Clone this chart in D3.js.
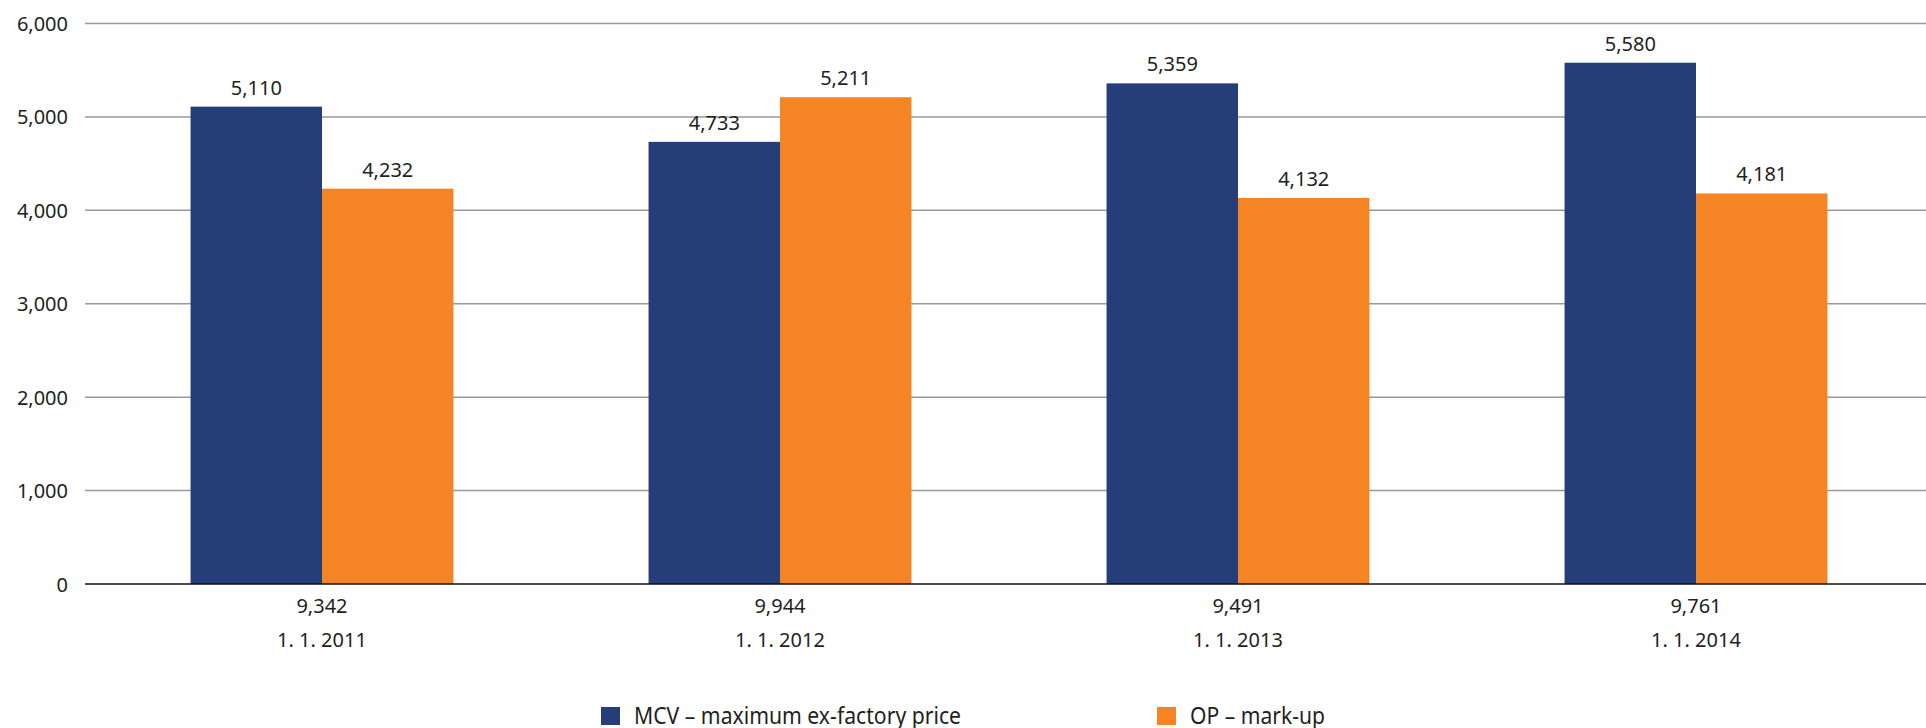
<!DOCTYPE html>
<html>
<head>
<meta charset="utf-8">
<script src="https://cdn.jsdelivr.net/npm/d3@7"></script>
<style>
  body { margin: 0; background: #fff; }
  text { font-family: "Noto Sans", sans-serif; fill: #231f20; }
</style>
</head>
<body>
<script>
const w = 1926;
const h = 728;

// data
const dates = ["1. 1. 2011", "1. 1. 2012", "1. 1. 2013", "1. 1. 2014"];
const totals = ["9,342", "9,944", "9,491", "9,761"];
const mcv = [5110, 4733, 5359, 5580];
const op = [4232, 5211, 4132, 4181];
const seriesNames = ["MCV \u2013 maximum ex-factory price", "OP \u2013 mark-up"];
const yTicks = [0, 1000, 2000, 3000, 4000, 5000, 6000];

const colors = ["#253d78", "#f58524"];

const rows = dates.map(function(d, i) {
  return {date: d, total: totals[i], vals: [mcv[i], op[i]]};
});

const svg = d3.select("body")
  .append("svg")
  .attr("width", w)
  .attr("height", h);

const y = d3.scaleLinear().domain([0, 6000]).range([584, 23.5]);

const x = d3.scaleBand()
  .domain(dates)
  .range([93, 1925])
  .paddingInner(0.426)
  .paddingOuter(0.213);

const x1 = d3.scaleBand()
  .domain([0, 1])
  .range([0, x.bandwidth()]);

// gridlines
svg.append("g")
  .selectAll("line")
  .data(yTicks.filter(function(t) { return t > 0; }))
  .enter()
  .append("line")
  .attr("x1", 85)
  .attr("x2", w)
  .attr("y1", function(d) { return y(d); })
  .attr("y2", function(d) { return y(d); })
  .attr("stroke", "#999999")
  .attr("stroke-width", 1.5);

// y labels
const yAxis = d3.axisLeft(y).tickValues(yTicks).tickSize(0).tickPadding(0)
  .tickFormat(d3.format(","));
const ya = svg.append("g").attr("transform", "translate(68,0)").call(yAxis);
ya.select(".domain").remove();
ya.selectAll("text")
  .attr("font-size", "20px")
  .attr("font-family", "Noto Sans")
  .attr("fill", "#231f20")
  .attr("dy", "0.35em");

// bars
const groups = svg.append("g")
  .selectAll("g")
  .data(rows)
  .enter()
  .append("g")
  .attr("transform", function(d) { return "translate(" + x(d.date) + ",0)"; });

groups.selectAll("rect")
  .data(function(d) { return d.vals; })
  .enter()
  .append("rect")
  .attr("x", function(d, i) { return x1(i); })
  .attr("width", x1.bandwidth())
  .attr("y", function(d) { return y(d); })
  .attr("height", function(d) { return y(0) - y(d); })
  .attr("fill", function(d, i) { return colors[i]; });

groups.selectAll("text.val")
  .data(function(d) { return d.vals; })
  .enter()
  .append("text")
  .attr("class", "val")
  .attr("x", function(d, i) { return x1(i) + x1.bandwidth() / 2; })
  .attr("y", function(d) { return y(d) - 12; })
  .attr("text-anchor", "middle")
  .attr("font-size", "20px")
  .text(function(d) { return d3.format(",")(d); });

// zero line
svg.append("line")
  .attr("x1", 85)
  .attr("x2", w)
  .attr("y1", y(0))
  .attr("y2", y(0))
  .attr("stroke", "#111")
  .attr("stroke-width", 1.5);

// category labels
groups.append("text")
  .attr("x", x.bandwidth() / 2)
  .attr("y", 613)
  .attr("text-anchor", "middle")
  .attr("font-size", "20px")
  .text(function(d) { return d.total; });

groups.append("text")
  .attr("x", x.bandwidth() / 2)
  .attr("y", 647)
  .attr("text-anchor", "middle")
  .attr("font-size", "20px")
  .text(function(d) { return d.date; });

// legend
const legendX = [601, 1157];
const legend = svg.append("g")
  .selectAll("g")
  .data(seriesNames)
  .enter()
  .append("g")
  .attr("transform", function(d, i) { return "translate(" + legendX[i] + ",707)"; });

legend.append("rect")
  .attr("width", 19)
  .attr("height", 18)
  .attr("fill", function(d, i) { return colors[i]; });

legend.append("text")
  .attr("x", 33)
  .attr("y", 17)
  .attr("font-size", "24px")
  .attr("textLength", function(d, i) { return i === 0 ? 327 : 135; })
  .attr("lengthAdjust", "spacingAndGlyphs")
  .text(function(d) { return d; });
</script>
</body>
</html>
